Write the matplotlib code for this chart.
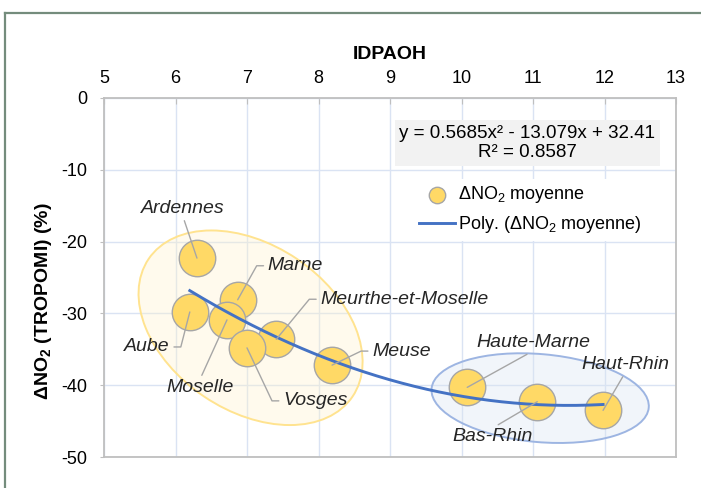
import numpy as np
import matplotlib
matplotlib.use('Agg')
import matplotlib.pyplot as plt
from matplotlib.patches import Ellipse
from matplotlib.lines import Line2D
from matplotlib.transforms import ScaledTranslation

plt.rcParams['font.family'] = ['Liberation Sans', 'DejaVu Sans']
plt.rcParams['mathtext.fontset'] = 'custom'
plt.rcParams['mathtext.rm'] = 'Liberation Sans'
plt.rcParams['mathtext.it'] = 'Liberation Sans:italic'
plt.rcParams['mathtext.bf'] = 'Liberation Sans:bold'
plt.rcParams['axes.unicode_minus'] = False

# data
depts = ['Ardennes', 'Aube', 'Marne', 'Moselle', 'Meurthe-et-Moselle', 'Vosges',
         'Meuse', 'Haute-Marne', 'Bas-Rhin', 'Haut-Rhin']
idpaoh = [6.30, 6.20, 6.87, 6.72, 7.41, 7.00, 8.19, 10.08, 11.06, 11.98]
dno2 = [-22.3, -29.8, -28.1, -30.9, -33.6, -34.8, -37.2, -40.3, -42.3, -43.5]

# polynomial trend (as displayed on the chart)
poly_coef = [0.5685, -13.079, 32.41]
r2 = 0.8587

xticks = [5, 6, 7, 8, 9, 10, 11, 12, 13]
yticks = [0, -10, -20, -30, -40, -50]

# label placement: offset in pixels from point, ha, relpos, elbow direction
label_style = {
    'Ardennes': ((-14, 50), 'center', (0.5, 0), None),
    'Aube': ((-20, -35), 'right', (1, 0.5), 0),
    'Marne': ((30, 34), 'left', (0, 0.5), 180),
    'Moselle': ((-27, -68), 'center', (0.5, 1), None),
    'Meurthe-et-Moselle': ((44, 40), 'left', (0, 0.5), 180),
    'Vosges': ((36, -53), 'left', (0, 0.5), 180),
    'Meuse': ((40, 14), 'left', (0, 0.5), 180),
    'Haute-Marne': ((66, 45), 'center', (0.5, 0), None),
    'Bas-Rhin': ((-45, -35), 'center', (0.5, 1), None),
    'Haut-Rhin': ((22, 46), 'center', (0.5, 0), None),
}

fig = plt.figure(figsize=(7.01, 4.88), dpi=100)
ax = fig.add_axes([104 / 701, 1 - 457 / 488, 572 / 701, 359 / 488])

# outer chart frame (top and left visible)
frame_col = '#748C7C'
fig.add_artist(Line2D([5 / 701, 1], [1 - 12.5 / 488, 1 - 12.5 / 488],
                      transform=fig.transFigure, color=frame_col, lw=1.6))
fig.add_artist(Line2D([5 / 701, 5 / 701], [0, 1 - 12.5 / 488],
                      transform=fig.transFigure, color=frame_col, lw=1.6))

ax.set_xlim(5, 13)
ax.set_ylim(-50, 0)
ax.set_xticks(xticks)
ax.set_yticks(yticks)
ax.xaxis.tick_top()
ax.xaxis.set_label_position('top')
ax.grid(True, color='#DAE3F3', lw=1.0, zorder=0)
ax.set_axisbelow(True)
for s in ax.spines.values():
    s.set_color('#BFBFBF')
    s.set_linewidth(1.3)
ax.tick_params(axis='x', direction='in', length=4, color='#BFBFBF', pad=8,
               labelsize=13, labelcolor='#000000')
ax.tick_params(axis='y', direction='out', length=3, color='#BFBFBF', pad=9,
               labelsize=13, labelcolor='#000000')
ax.set_xlabel('IDPAOH', fontsize=14, fontweight='bold', labelpad=8)
ax.set_ylabel('ΔNO$_\\mathbf{2}$ (TROPOMI) (%)', fontsize=14, fontweight='bold')
ax.yaxis.set_label_coords(-0.088, 0.435)

# grouping ellipses (sizes in inches, centred on data positions)
def group_ellipse(cx, cy, w, h, ang, face, edge):
    tr = fig.dpi_scale_trans + ScaledTranslation(cx, cy, ax.transData)
    e = Ellipse((0, 0), w, h, angle=ang, transform=tr, facecolor=face,
                edgecolor=edge, lw=1.4, zorder=1)
    ax.add_patch(e)

group_ellipse(7.05, -32.0, 2.46, 1.66, -34, (1.0, 0.95, 0.80, 0.35), '#FFE38F')
group_ellipse(11.10, -41.8, 2.18, 0.88, -5, (0.85, 0.89, 0.95, 0.35), '#9DB5E2')

ax.scatter(idpaoh, dno2, s=690, color='#FFD966', edgecolor='#A6A6A6', lw=1.0,
           zorder=3, label='ΔNO$_2$ moyenne')

xs = np.linspace(min(idpaoh), max(idpaoh), 200)
ax.plot(xs, np.polyval(poly_coef, xs), color='#4472C4', lw=2.1, zorder=4,
        label='Poly. (ΔNO$_2$ moyenne)')

for name, x, y in zip(depts, idpaoh, dno2):
    off, ha, relpos, arm = label_style[name]
    if arm is None:
        cs = 'arc3,rad=0'
    else:
        cs = 'arc,angleA=%d,armA=11,angleB=0,armB=0,rad=0' % arm
    ax.annotate(name, xy=(x, y), xytext=off, textcoords='offset pixels',
                ha=ha, va='center', fontsize=14, style='italic', color='#262626',
                zorder=6,
                arrowprops=dict(arrowstyle='-', color='#A6A6A6', lw=1.0,
                                shrinkA=1, shrinkB=0, relpos=relpos,
                                connectionstyle=cs))

ax.text(0.74, 0.875, 'y = 0.5685x² - 13.079x + 32.41\nR² = %.4f' % r2,
        transform=ax.transAxes, ha='center', va='center', fontsize=13.5,
        linespacing=1.2, zorder=7,
        bbox=dict(boxstyle='square,pad=0.25', facecolor='#F2F2F2', edgecolor='none'))

leg = ax.legend(loc='upper left', bbox_to_anchor=(0.525, 0.8), frameon=True,
                fontsize=13, handlelength=2.0, handletextpad=0.2,
                labelspacing=0.5, markerscale=0.45, borderpad=0.3)
leg.get_frame().set_edgecolor('none')
leg.get_frame().set_facecolor('white')
leg.get_frame().set_alpha(1)
leg.set_zorder(7)

fig.savefig('out.png', dpi=100)
